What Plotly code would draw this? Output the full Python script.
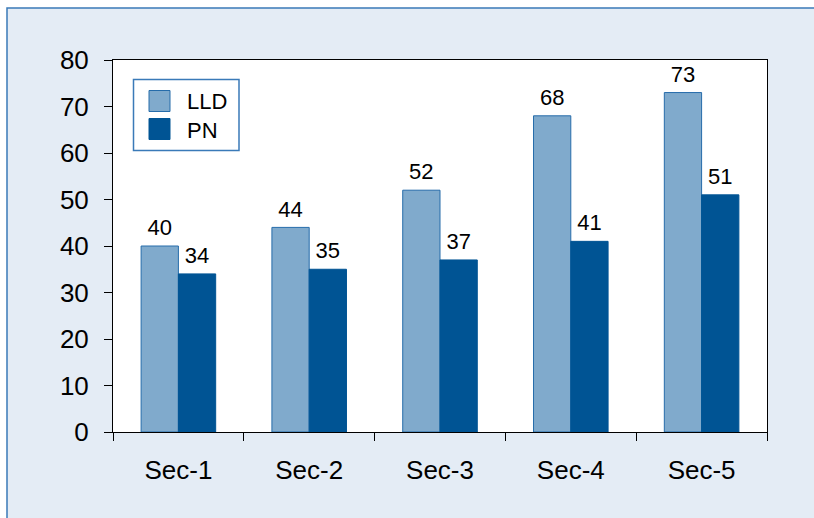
import plotly.graph_objects as go

categories = ["Sec-1", "Sec-2", "Sec-3", "Sec-4", "Sec-5"]
series_names = ["LLD", "PN"]
lld_values = [40, 44, 52, 68, 73]
pn_values = [34, 35, 37, 41, 51]
y_ticks = [0, 10, 20, 30, 40, 50, 60, 70, 80]

LLD_FILL = "rgb(128,170,204)"
LLD_LINE = "rgb(38,108,170)"
PN_FILL = "rgb(0,84,148)"
FRAME_BG = "rgb(228,236,245)"
FRAME_LINE = "rgb(58,122,184)"
FONT = "Arial, Liberation Sans, sans-serif"

fig = go.Figure()
for name, vals, fill, line in [(series_names[0], lld_values, LLD_FILL, LLD_LINE),
                               (series_names[1], pn_values, PN_FILL, PN_FILL)]:
    fig.add_trace(go.Bar(
        x=categories, y=vals, name=name,
        marker=dict(color=fill, line=dict(color=line, width=1)),
        offsetgroup=name, alignmentgroup="a",
        showlegend=False, hoverinfo="skip",
    ))
for name, vals in [(series_names[0], lld_values), (series_names[1], pn_values)]:
    fig.add_trace(go.Scatter(
        x=categories, y=vals, mode="markers+text",
        text=[str(v) for v in vals], textposition="top center",
        textfont=dict(size=22, color="black", family=FONT),
        marker=dict(size=7, color="rgba(0,0,0,0)"),
        offsetgroup=name, alignmentgroup="a",
        showlegend=False, hoverinfo="skip", cliponaxis=False,
    ))

W, H = 814, 518
ml, mr, mt, mb = 113, 47, 60, 86
pw, ph = W - ml - mr, H - mt - mb

def px(x):
    return (x - ml) / pw

def py(y):
    return (H - mb - y) / ph

shapes = [
    dict(type="rect", xref="paper", yref="paper", layer="below",
         x0=px(7), x1=px(830), y0=py(8), y1=py(540),
         fillcolor=FRAME_BG, line=dict(color=FRAME_LINE, width=1.5)),
    dict(type="rect", xref="paper", yref="paper", layer="below",
         x0=0, x1=1, y0=0, y1=1, fillcolor="white", line=dict(width=0)),
    # legend box
    dict(type="rect", xref="paper", yref="paper",
         x0=px(133.5), x1=px(239), y0=py(150.5), y1=py(79.5),
         fillcolor="white", line=dict(color=FRAME_LINE, width=1.5)),
    dict(type="rect", xref="paper", yref="paper",
         x0=px(149), x1=px(170), y0=py(111.5), y1=py(90.5),
         fillcolor=LLD_FILL, line=dict(color=LLD_LINE, width=1)),
    dict(type="rect", xref="paper", yref="paper",
         x0=px(149), x1=px(170), y0=py(139.5), y1=py(118.5),
         fillcolor=PN_FILL, line=dict(color=PN_FILL, width=1)),
]
annotations = [
    dict(xref="paper", yref="paper", x=px(185), y=py(101), text=series_names[0],
         showarrow=False, xanchor="left", yanchor="middle",
         font=dict(size=22, color="black", family=FONT)),
    dict(xref="paper", yref="paper", x=px(185), y=py(130), text=series_names[1],
         showarrow=False, xanchor="left", yanchor="middle",
         font=dict(size=22, color="black", family=FONT)),
]

fig.update_layout(
    width=W, height=H,
    margin=dict(l=ml, r=mr, t=mt, b=mb, pad=0),
    paper_bgcolor="white", plot_bgcolor="white",
    barmode="group", bargap=0.43, bargroupgap=0, scattermode="group",
    font=dict(family=FONT, color="black"),
    shapes=shapes, annotations=annotations,
    xaxis=dict(
        type="category", range=[-0.5, 4.5], tickson="boundaries",
        ticks="outside", ticklen=8, tickwidth=1, tickcolor="black",
        showline=True, linecolor="black", linewidth=1, mirror=True,
        showgrid=False, zeroline=False,
        tickfont=dict(size=26, color="black", family=FONT),
        ticklabelstandoff=15,
    ),
    yaxis=dict(
        range=[0, 80], tickvals=y_ticks, ticktext=[str(t) for t in y_ticks],
        ticks="outside", ticklen=8, tickwidth=1, tickcolor="black",
        showline=True, linecolor="black", linewidth=1, mirror=True,
        showgrid=False, zeroline=False,
        tickfont=dict(size=26, color="black", family=FONT),
        ticklabelstandoff=10,
    ),
)

fig.write_html("out.html")
